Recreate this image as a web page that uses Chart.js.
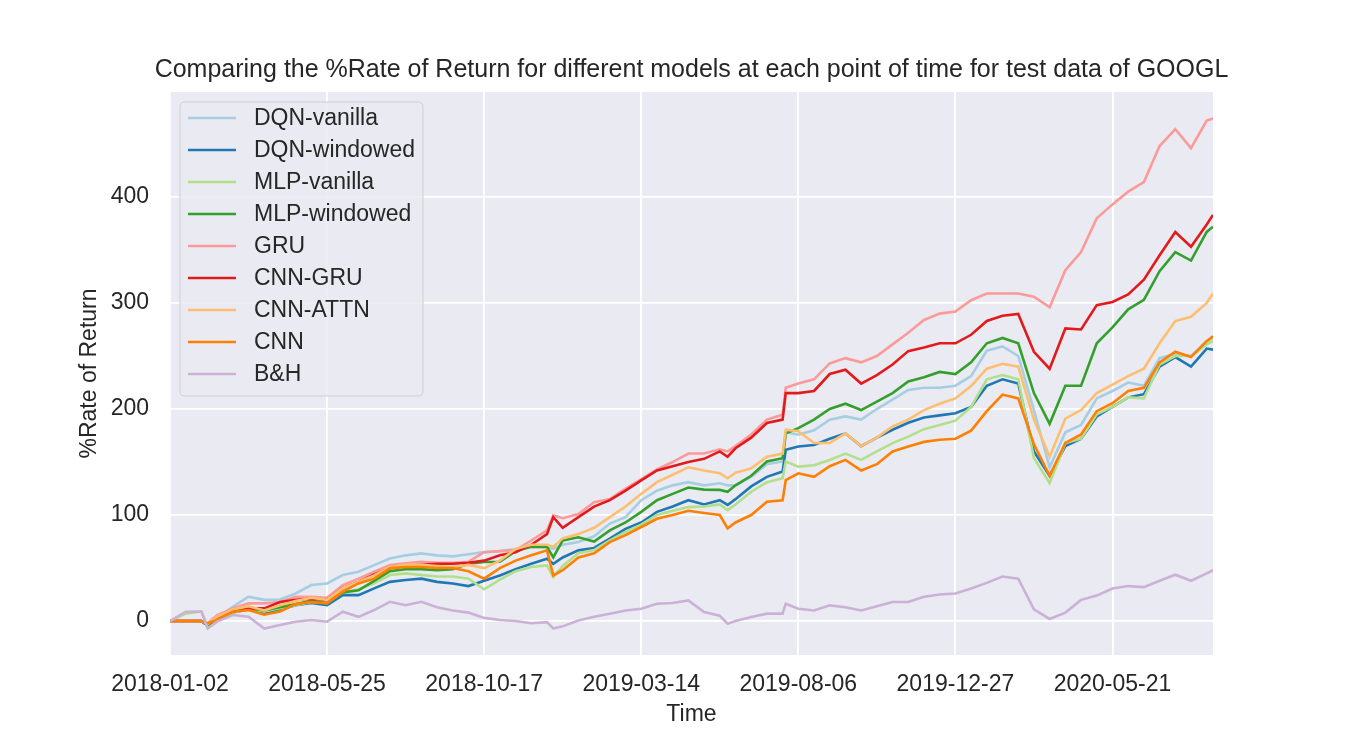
<!DOCTYPE html>
<html>
<head>
<meta charset="utf-8">
<script src="https://cdn.jsdelivr.net/npm/chart.js@4.4.1/dist/chart.umd.min.js"></script>
<style>
  html, body { margin: 0; padding: 0; background: #ffffff; }
  canvas { display: block; }
</style>
</head>
<body>
<canvas id="c" width="1350" height="750"></canvas>
<script>
const tradingDay = [0,10,20,24,30,40,50,60,70,80,90,100,110,120,130,140,150,160,170,180,190,200,210,220,230,240,244,250,260,270,280,290,300,310,320,330,340,350,355,360,370,380,390,392,400,410,420,430,440,450,460,470,480,490,500,510,520,530,540,550,560,570,580,590,600,610,620,630,640,650,660,664];
const tickDays = [0,100,200,300,400,500,600];
const tickDates = ['2018-01-02','2018-05-25','2018-10-17','2019-03-14','2019-08-06','2019-12-27','2020-05-21'];
const yTicks = [0,100,200,300,400];

const seriesNames = ['DQN-vanilla','DQN-windowed','MLP-vanilla','MLP-windowed','GRU','CNN-GRU','CNN-ATTN','CNN','B&H'];

const dqnVanilla = [0,0,0,-3,3,13.5,23,20,20.4,26,34,35.5,43.4,46.5,52.8,59,62,63.8,62,61,63,65,66,68,70,70,68,72,74.5,80,92,98,114,123,128,131,128,130,128,128,136,148,150.5,178,175.7,180,190,193,190,200,208.8,218,220,220,222,231,255,259,250,199,145,178,185,210,217,225,222,248,252,250,264,267];
const dqnWindowed = [0,0,0,-4,2,8,11,7,11,15,17,15,24.5,24.5,30.8,37,38.7,40,37,35.5,33,38,43,49,54,58.8,54,60,66.7,69,77.7,87,93,103,108,114,110,114,109.5,115,127,136,141,161.5,164.7,166,172,177,165,173,180.4,187,192,194,196,202,222,228,224,160,137,165,172,193,202,211,214,240,249,240,257,256];
const mlpVanilla = [0,7,9,-5,2,8,11,9,12,15,18,17,27,30,35.5,43.4,45,43.4,42,42,40,30,39,47,51,52.5,41.5,52,64,67,76,84,91,100,104,107.5,108,110,104.7,110,122,131,134.7,150.5,145.7,147,152,158,152,160,167.8,174,181,185,189,202,228,232,228,153.7,130,168,172,195,202,211,210,242,250,250,261,264];
const mlpWindowed = [0,0,0,-4,2,9,12,10,13,16,19,17,27,29,38,47,49,49,48,49,54,55.7,56,66,70,70,60,76,79,75,85.5,93,103,114,120,126,124,123.7,122,128,137,150.5,153.6,177,182,190,200,205,199,207,215,226,230,235,233,244,262,267,262,215,186,222,222,262,277,294,303,330,348,340,367,372];
const gru = [0,0,0,-2,5.7,12,16.7,16.7,18,23,23,22,34,40,46.5,52.8,54.4,56,55,55,56,65,66,67,76,85.5,99.7,97,101,112,115,125,134,143,150,158,158,162,160,165,176,190,194.6,220,224,228,243,248,244,250,261,272,284,290,292,302.6,309,309,309,306,296,331,348,380,393,405,414,448,464,446,472,474];
const cnnGru = [0,0,0,-3,3,9,12,12,18,20,21,20,31,37,44,50,52,53,54,54,55,57,62,65,72,82,98,88,98,108,114,123,132.7,142,146,150,153,160,155,163,173,186.8,190,215,215,217,233,237,224,232,242,254.6,258,262,262,270,283,288,289.6,254,238,276,275,298,301,308,322,345,367,353,374,383];
const cnnAttn = [0,0,0,-3,4,11,14,10,15,19,22,20,31,37,43,51,53,53,52,51,53,50,57,68,72,72,70,78,82,88,98,108,120,131,138,145,142,139.4,134.7,140,144,155,158,180.4,179,168,168,177,165,173,183.6,190,199,205,210,221.7,238,242.7,240,190,155,191,199,215,223,231,238,262,283,287,300,309];
const cnn = [0,0,0,-2,1,8.8,10.4,6,9,16,18,16.7,27.7,35.5,40,49.7,51,51,50,50,47,40,50,57,62,66.7,43,48,60,64,74.5,81,88.7,96.5,100,104,102,100,87.4,93,100,112.6,114,133,139.4,136,146,152,142,148,160,164.7,169,171,172,179.6,198,213.6,210,166.7,137,168,176,198,205.5,217,220,244,254,249,264,268.6];
const buyHold = [0,8.8,9,-7,-0.5,5.7,4,-7,-3.8,-0.6,1,-0.6,8.8,4,10.4,18.2,15,18.2,13,10,8,3,1,0,-2,-1,-7,-5,0.6,4,7,10,11.6,16.4,17,19.5,8.5,5,-2.5,0,3.8,7,7,16.4,11.7,10,14.8,13,10,14,18,18,23,25,26,30.7,36,42,40,11,2,8,20,24,30.7,33,32,38,43.7,38,45,48];

const seriesValues = [dqnVanilla, dqnWindowed, mlpVanilla, mlpWindowed, gru, cnnGru, cnnAttn, cnn, buyHold];
const seriesColors = ['#a6cee3','#1f78b4','#b2df8a','#33a02c','#fb9a99','#e31a1c','#fdbf6f','#ff7f00','#cab2d6'];
const chartTitle = 'Comparing the %Rate of Return for different models at each point of time for test data of GOOGL';

// ---- styling ----
const FONT = "'Liberation Sans', Arial, 'DejaVu Sans', sans-serif";
const TEXT = '#262626';
const PLOT_BG = '#eaeaf2';

const datasets = seriesNames.map((name, i) => ({
  label: name,
  data: tradingDay.map((d, k) => ({ x: d, y: seriesValues[i][k] })),
  borderColor: seriesColors[i],
  backgroundColor: seriesColors[i],
  borderWidth: 2.6,
  pointRadius: 0,
  tension: 0,
  fill: false,
  order: seriesNames.length - 1 - i   // later series drawn on top, like matplotlib
}));

const plotBackground = {
  id: 'plotBackground',
  beforeDraw(chart) {
    const { ctx, chartArea: a } = chart;
    ctx.save();
    ctx.fillStyle = '#ffffff';
    ctx.fillRect(0, 0, chart.width, chart.height);
    ctx.fillStyle = PLOT_BG;
    ctx.fillRect(a.left, a.top, a.right - a.left, a.bottom - a.top);
    ctx.restore();
  },
  afterDraw(chart) {
    // title centred over the plotting area (as matplotlib's axes title)
    const { ctx, chartArea: a } = chart;
    ctx.save();
    ctx.font = '25px ' + FONT;
    ctx.fillStyle = TEXT;
    ctx.textAlign = 'center';
    ctx.textBaseline = 'middle';
    ctx.fillText(chartTitle, (a.left + a.right) / 2, a.top - 22);
    ctx.restore();
  }
};

function roundRect(ctx, x, y, w, h, r) {
  ctx.beginPath();
  ctx.moveTo(x + r, y);
  ctx.lineTo(x + w - r, y);
  ctx.quadraticCurveTo(x + w, y, x + w, y + r);
  ctx.lineTo(x + w, y + h - r);
  ctx.quadraticCurveTo(x + w, y + h, x + w - r, y + h);
  ctx.lineTo(x + r, y + h);
  ctx.quadraticCurveTo(x, y + h, x, y + h - r);
  ctx.lineTo(x, y + r);
  ctx.quadraticCurveTo(x, y, x + r, y);
  ctx.closePath();
}

const insideLegend = {
  id: 'insideLegend',
  afterDatasetsDraw(chart) {
    const { ctx, chartArea: a } = chart;
    const ds = chart.data.datasets;
    const x0 = a.left + 10, y0 = a.top + 10;
    const rowH = 32;
    const w = 243, h = 38 + rowH * (ds.length - 1);
    ctx.save();
    roundRect(ctx, x0, y0, w, h, 5);
    ctx.fillStyle = 'rgba(234,234,242,0.85)';
    ctx.fill();
    ctx.lineWidth = 1;
    ctx.strokeStyle = '#cfcfd4';
    ctx.stroke();
    ctx.font = '23px ' + FONT;
    ctx.textBaseline = 'middle';
    ctx.textAlign = 'left';
    ds.forEach((d, i) => {
      const cy = y0 + 16 + i * rowH;
      ctx.beginPath();
      ctx.moveTo(x0 + 8, cy);
      ctx.lineTo(x0 + 56, cy);
      ctx.strokeStyle = d.borderColor;
      ctx.lineWidth = 2.6;
      ctx.stroke();
      ctx.fillStyle = TEXT;
      ctx.fillText(d.label, x0 + 74, cy + 1);
    });
    ctx.restore();
  }
};

new Chart(document.getElementById('c'), {
  type: 'line',
  data: { datasets },
  plugins: [plotBackground, insideLegend],
  options: {
    responsive: false,
    animation: false,
    devicePixelRatio: 1,
    layout: { padding: { left: 0, right: 137, top: 92, bottom: 0 } },
    plugins: {
      legend: { display: false },
      tooltip: { enabled: false },
      title: { display: false }
    },
    scales: {
      x: {
        type: 'linear',
        min: 0,
        max: 664,
        afterBuildTicks: (s) => { s.ticks = tickDays.map(v => ({ value: v })); },
        afterFit: (s) => { s.height = 95; },
        ticks: {
          color: TEXT,
          font: { family: FONT, size: 23 },
          padding: 16,
          maxRotation: 0,
          autoSkip: false,
          callback: (v) => { const k = tickDays.indexOf(v); return k >= 0 ? tickDates[k] : ''; }
        },
        grid: { color: '#ffffff', lineWidth: 1.8, drawTicks: false },
        border: { display: false },
        title: {
          display: true,
          text: 'Time',
          color: TEXT,
          font: { family: FONT, size: 23 },
          padding: { top: 0, bottom: 22 }
        }
      },
      y: {
        type: 'linear',
        min: -32,
        max: 499,
        afterBuildTicks: (s) => { s.ticks = yTicks.map(v => ({ value: v })); },
        afterFit: (s) => { s.width = 170; },
        ticks: {
          color: TEXT,
          font: { family: FONT, size: 23 },
          padding: 21
        },
        grid: { color: '#ffffff', lineWidth: 1.8, drawTicks: false },
        border: { display: false },
        title: {
          display: true,
          text: '%Rate of Return',
          color: TEXT,
          font: { family: FONT, size: 23 },
          padding: { top: 76, bottom: 0 }
        }
      }
    }
  }
});
</script>
</body>
</html>
